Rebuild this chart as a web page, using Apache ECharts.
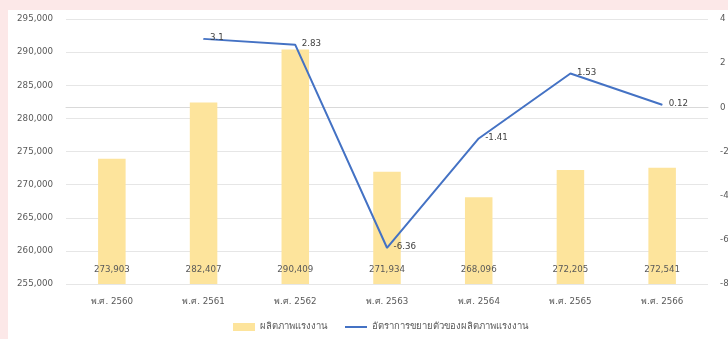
<!DOCTYPE html>
<html><head><meta charset="utf-8">
<script src="https://cdn.jsdelivr.net/npm/echarts@6/dist/echarts.min.js"></script>
<style>
html,body{margin:0;padding:0;width:728px;height:339px;overflow:hidden;background:#fce8e8;}
#c{position:absolute;left:8px;top:10px;width:740px;height:329px;background:#fff;}
</style></head><body>
<div id="c"></div>
<script>
const categories = ['พ.ศ. 2560','พ.ศ. 2561','พ.ศ. 2562','พ.ศ. 2563','พ.ศ. 2564','พ.ศ. 2565','พ.ศ. 2566'];
const productivity = [273903, 282407, 290409, 271934, 268096, 272205, 272541];
const growth = [null, 3.1, 2.83, -6.36, -1.41, 1.53, 0.12];
const barName = 'ผลิตภาพแรงงาน';
const lineName = 'อัตราการขยายตัวของผลิตภาพแรงงาน';

const chart = echarts.init(document.getElementById('c'));
const font = 'Tahoma, "DejaVu Sans", sans-serif';
const fs = 8.7;
chart.setOption({
  animation:false,
  textStyle:{fontFamily:font},
  grid:{left:58,right:40,top:9,bottom:55},
  legend:{
    bottom:2, left:220, itemGap:18, itemWidth:22, itemHeight:8,
    textStyle:{fontSize:9.5,color:'#595959',fontFamily:font},
    data:[{name:barName,icon:'rect'},{name:lineName,icon:'path://M0,0h22v2h-22z'}]
  },
  xAxis:{
    type:'category', data:categories,
    axisLine:{lineStyle:{color:'#d9d9d9'}}, axisTick:{show:false},
    axisLabel:{color:'#595959',fontSize:fs,margin:13}
  },
  yAxis:[{
    type:'value', min:255000, max:295000, interval:5000,
    axisLine:{show:false}, axisTick:{show:false},
    splitLine:{lineStyle:{color:'#e6e6e6'}},
    axisLabel:{color:'#595959',fontSize:fs,margin:13,
      formatter:v=>v.toLocaleString('en-US')}
  },{
    type:'value', min:-8, max:4, interval:2,
    axisLine:{show:false}, axisTick:{show:false}, splitLine:{show:false},
    axisLabel:{color:'#595959',fontSize:fs,margin:12}
  }],
  series:[{
    name:barName, type:'bar', data:productivity, barWidth:'30%',
    itemStyle:{color:'#fde49c'},
    label:{show:true,position:'insideBottom',distance:10,color:'#595959',fontSize:fs,
      formatter:p=>p.value.toLocaleString('en-US')}
  },{
    name:lineName, type:'line', yAxisIndex:1, data:growth, connectNulls:false,
    symbol:'circle', symbolSize:1, showSymbol:true,
    lineStyle:{color:'#4472c4',width:2}, itemStyle:{color:'#4472c4'},
    label:{show:true,position:'right',distance:6,color:'#404040',fontSize:fs,offset:[0,-1]}
  }]
});
</script></body></html>
